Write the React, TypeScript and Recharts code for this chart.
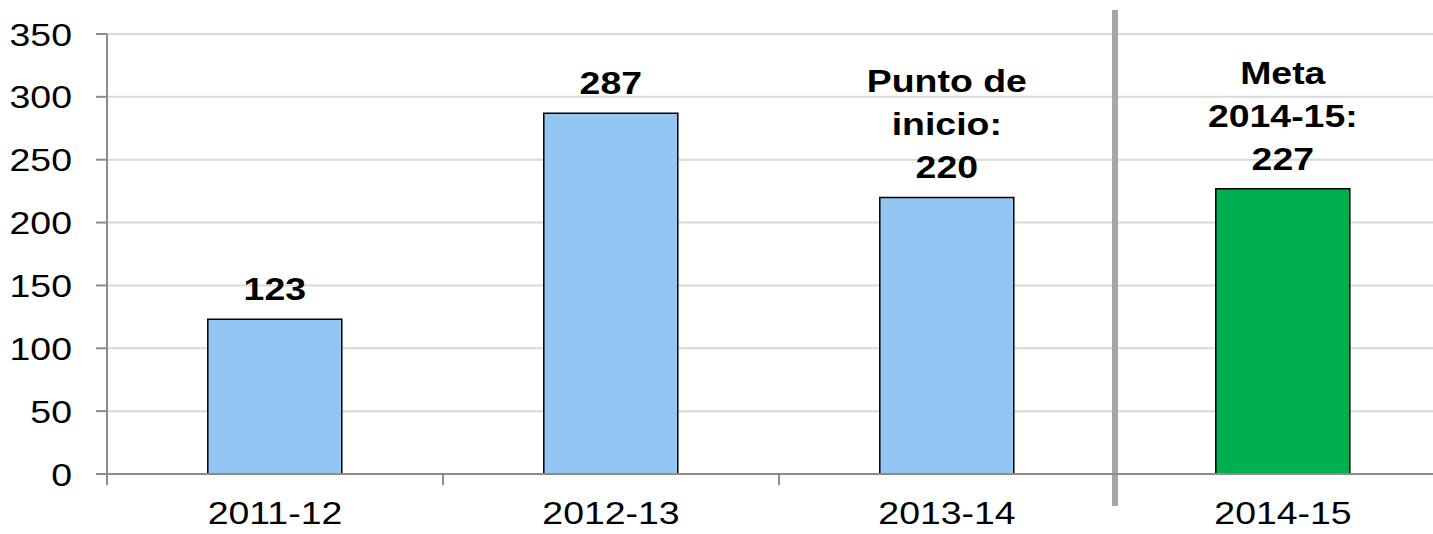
import React from 'react'
import {
    BarChart, Bar, XAxis, YAxis, CartesianGrid, Cell, LabelList, ReferenceLine
} from 'recharts'

// School years and counts
const YEARS = ['2011-12', '2012-13', '2013-14', '2014-15']
const COUNTS = [123, 287, 220, 227]
const BAR_COLORS = ['#94c6f4', '#94c6f4', '#94c6f4', '#00b050']
const LABEL_LINES = [
    ['123'],
    ['287'],
    ['Punto de', 'inicio:', '220'],
    ['Meta', '2014-15:', '227'],
]
const Y_TICKS = [0, 50, 100, 150, 200, 250, 300, 350]
const DIVIDER_YEAR = '2014-15'

const FONT = '"Liberation Sans", Arial, sans-serif'
const FONT_SIZE = 32
const STRETCH = 1.17 // the original text is a bit wide
const AXIS_GRAY = '#8c8c8c'

const data = YEARS.map((year, i) => ({ year, value: COUNTS[i] }))

// multi-line bold label above each bar
function BarLabel(props: any) {
    const { x, y, width, index } = props
    const lines = LABEL_LINES[index] || []
    const cx = x + width / 2
    const lineHeight = 43
    const last = y - 19
    return (
        <text
            transform={`translate(${cx} 0) scale(${STRETCH} 1)`}
            textAnchor="middle"
            fontFamily={FONT}
            fontSize={FONT_SIZE}
            fontWeight="bold"
            fill="#000"
        >
            {lines.map((line, i) => (
                <tspan key={i} x={0} y={last - (lines.length - 1 - i) * lineHeight}>
                    {line}
                </tspan>
            ))}
        </text>
    )
}

function XTick(props: any) {
    const { x, y, payload } = props
    return (
        <text
            transform={`translate(${x} ${y}) scale(${STRETCH} 1)`}
            textAnchor="middle"
            fontFamily={FONT}
            fontSize={FONT_SIZE}
            fill="#000"
        >
            {payload.value}
        </text>
    )
}

function YTick(props: any) {
    const { x, y, payload } = props
    return (
        <text
            transform={`translate(${x} ${y}) scale(${STRETCH} 1)`}
            textAnchor="end"
            dy="0.36em"
            fontFamily={FONT}
            fontSize={FONT_SIZE}
            fill="#000"
        >
            {payload.value}
        </text>
    )
}

// small tick mark below the axis at a category boundary
function BoundaryTick(props: any) {
    const { x1, y1, y2 } = props
    const bottom = Math.max(y1, y2)
    return <line x1={x1} x2={x1} y1={bottom} y2={bottom + 11} stroke={AXIS_GRAY} strokeWidth={2} />
}

function Divider(props: any) {
    const { x1, y1, y2 } = props
    const top = Math.min(y1, y2)
    const bottom = Math.max(y1, y2)
    return <line x1={x1} x2={x1} y1={top - 24} y2={bottom + 32} stroke="#a6a6a6" strokeWidth={6} />
}

export default function App() {
    return (
        <div style={{ position: 'absolute', left: 0, top: 0, width: 1433, height: 534, overflow: 'hidden', background: '#fff' }}>
            <BarChart
                width={1451}
                height={534}
                data={data}
                margin={{ top: 34, right: 0, left: 0, bottom: 0 }}
                barCategoryGap="30%"
            >
                <CartesianGrid horizontal vertical={false} stroke="#d9d9d9" strokeWidth={2} />
                <XAxis
                    dataKey="year"
                    height={60}
                    axisLine={{ stroke: AXIS_GRAY, strokeWidth: 2 }}
                    tickLine={false}
                    tickSize={0}
                    tickMargin={50}
                    interval={0}
                    tick={XTick}
                />
                <YAxis
                    width={107}
                    domain={[0, 350]}
                    ticks={Y_TICKS}
                    interval={0}
                    axisLine={{ stroke: AXIS_GRAY, strokeWidth: 2 }}
                    tickLine={{ stroke: AXIS_GRAY, strokeWidth: 2 }}
                    tickSize={11}
                    tickMargin={24}
                    tick={YTick}
                />
                {YEARS.filter((y) => y !== DIVIDER_YEAR).map((y) => (
                    <ReferenceLine key={y} x={y} position="start" shape={BoundaryTick} />
                ))}
                <ReferenceLine x={DIVIDER_YEAR} position="start" shape={Divider} />
                <Bar dataKey="value" stroke="#000" strokeWidth={1.5} isAnimationActive={false}>
                    {data.map((d, i) => (
                        <Cell key={d.year} fill={BAR_COLORS[i]} />
                    ))}
                    <LabelList dataKey="value" content={BarLabel} />
                </Bar>
            </BarChart>
        </div>
    )
}
